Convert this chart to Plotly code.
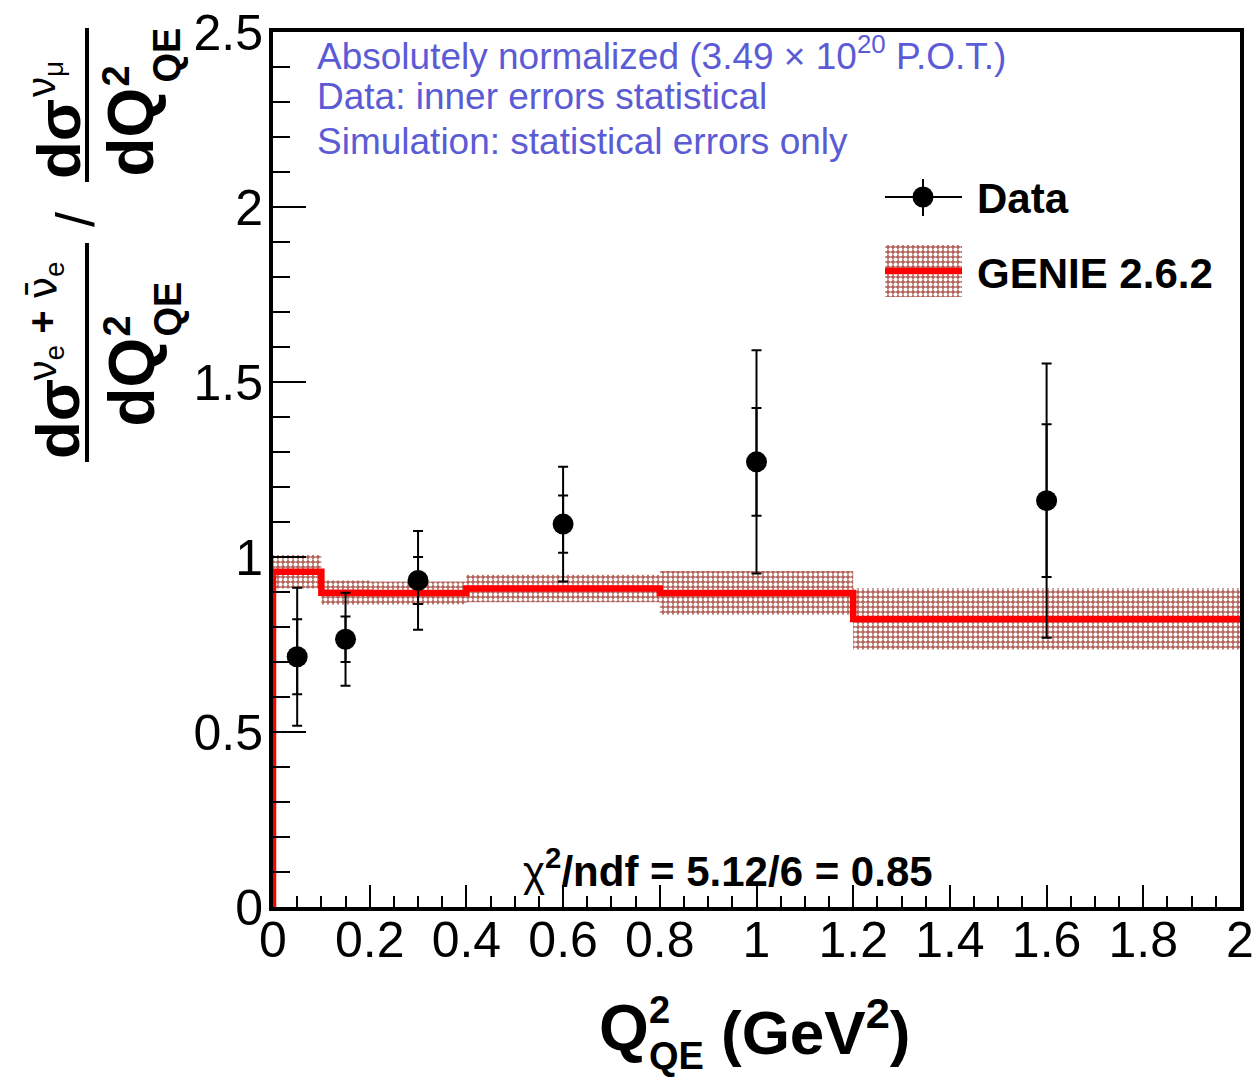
import plotly.graph_objects as go

# ---------------- data ----------------
q2_points = [0.05, 0.15, 0.3, 0.6, 1.0, 1.6]
ratio_data = [0.715, 0.765, 0.933, 1.094, 1.272, 1.161]
stat_err = [0.107, 0.065, 0.067, 0.082, 0.154, 0.218]
total_err = [0.197, 0.133, 0.141, 0.164, 0.319, 0.392]

bin_edges = [0.0, 0.1, 0.2, 0.4, 0.8, 1.2, 2.0]
genie_ratio = [0.958, 0.898, 0.897, 0.910, 0.897, 0.823]
genie_err = [0.048, 0.035, 0.033, 0.039, 0.063, 0.088]

x_tickvals = [0, 0.2, 0.4, 0.6, 0.8, 1.0, 1.2, 1.4, 1.6, 1.8, 2.0]
x_ticktext = ["0", "0.2", "0.4", "0.6", "0.8", "1", "1.2", "1.4", "1.6", "1.8", "2"]
y_tickvals = [0, 0.5, 1.0, 1.5, 2.0, 2.5]
y_ticktext = ["0", "0.5", "1", "1.5", "2", "2.5"]

# ---------------- layout geometry ----------------
W, H = 1255, 1079
L, R, T, B = 273, 1240, 32, 907  # plot area in pixels


def px2x(p):
    return (p - L) / (R - L)


def px2y(p):
    return (B - p) / (B - T)


FONT = "Liberation Sans, Arial, Helvetica, sans-serif"
BLUE = "#5b5bd6"
BAND_BG = "rgb(178,100,90)"
RED = "#ff0000"
PATTERN = dict(shape=".", bgcolor=BAND_BG, fgcolor="white",
               size=5, solidity=0.5, fillmode="replace")

fig = go.Figure()

# GENIE band (step polygon)
band_x, band_up, band_lo = [], [], []
for i in range(len(genie_ratio)):
    band_x += [bin_edges[i], bin_edges[i + 1]]
    band_up += [genie_ratio[i] + genie_err[i]] * 2
    band_lo += [genie_ratio[i] - genie_err[i]] * 2
poly_x = band_x + band_x[::-1]
poly_y = band_up + band_lo[::-1]
fig.add_trace(go.Scatter(
    x=poly_x, y=poly_y, mode="lines", fill="toself",
    line=dict(width=0, color=BAND_BG),
    fillcolor=BAND_BG, fillpattern=PATTERN,
    hoverinfo="skip", showlegend=False,
))

# GENIE central histogram
line_x = [bin_edges[0]]
line_y = [0.0]
for i in range(len(genie_ratio)):
    line_x += [bin_edges[i], bin_edges[i + 1]]
    line_y += [genie_ratio[i]] * 2
fig.add_trace(go.Scatter(
    x=line_x, y=line_y, mode="lines",
    line=dict(color=RED, width=6.5),
    showlegend=False, hoverinfo="skip",
))

# Data: statistical (inner) errors
fig.add_trace(go.Scatter(
    x=q2_points, y=ratio_data, mode="markers",
    marker=dict(size=1, opacity=0),
    error_y=dict(type="data", array=stat_err, color="black",
                 thickness=2, width=5),
    showlegend=False, hoverinfo="skip",
))
# Data: total errors + points
fig.add_trace(go.Scatter(
    x=q2_points, y=ratio_data, mode="markers",
    marker=dict(size=21, color="black", symbol="circle"),
    error_y=dict(type="data", array=total_err, color="black",
                 thickness=2, width=5),
    showlegend=False,
))

# legend drawn on an overlay axis in pixel coordinates
fig.add_trace(go.Scatter(
    x=[885, 962, 962, 885, 885], y=[245, 245, 297, 297, 245],
    xaxis="x2", yaxis="y2", mode="lines", fill="toself",
    line=dict(width=0, color=BAND_BG), fillcolor=BAND_BG,
    fillpattern=PATTERN, showlegend=False, hoverinfo="skip",
))
fig.add_trace(go.Scatter(
    x=[885, 962], y=[271, 271], xaxis="x2", yaxis="y2", mode="lines",
    line=dict(color=RED, width=6.5), showlegend=False, hoverinfo="skip",
))
fig.add_trace(go.Scatter(
    x=[885, 962], y=[197, 197], xaxis="x2", yaxis="y2", mode="lines",
    line=dict(color="black", width=2), showlegend=False, hoverinfo="skip",
))
fig.add_trace(go.Scatter(
    x=[923, 923], y=[179, 216], xaxis="x2", yaxis="y2", mode="lines",
    line=dict(color="black", width=2), showlegend=False, hoverinfo="skip",
))
fig.add_trace(go.Scatter(
    x=[923], y=[197], xaxis="x2", yaxis="y2", mode="markers",
    marker=dict(size=21, color="black"), showlegend=False, hoverinfo="skip",
))

annotations = []


def ann(text, x, y, size, color="black", xanchor="left", yanchor="middle",
        angle=0):
    annotations.append(dict(
        text=text, x=px2x(x), y=px2y(y), xref="paper", yref="paper",
        showarrow=False, xanchor=xanchor, yanchor=yanchor,
        textangle=angle, font=dict(family=FONT, size=size, color=color),
        borderpad=0,
    ))


# info text
ann("Absolutely normalized (3.49 × 10<sup>20</sup> P.O.T.)", 316, 54, 37, BLUE)
ann("Data: inner errors statistical", 316, 96, 37, BLUE)
ann("Simulation: statistical errors only", 316, 142, 37, BLUE)

# legend text
ann("<b>Data</b>", 976, 198, 42)
ann("<b>GENIE 2.6.2</b>", 976, 273, 42)

# chi2
ann("χ<b><sup>2</sup>/ndf = 5.12/6 = 0.85</b>", 728, 868, 42, xanchor="center")

# x-axis title
ann("<b>Q</b>", 598, 1028, 64)
ann("<b>2</b>", 648, 1010, 38)
ann("<b>QE</b>", 648, 1056, 38)
ann("<b>(GeV<sup>2</sup>)</b>", 720, 1028, 62)

# y-axis title (rotated fractions)
ann("<b>dσ</b>", 58, 460, 62, xanchor="center", yanchor="bottom", angle=-90)
ann("ν<sub>e</sub> <b>+</b> <span style='font-family:DejaVu Sans'>ν\u0304</span><sub>e</sub>",
    44, 382, 40, xanchor="center", yanchor="bottom", angle=-90)
ann("<b>dQ</b>", 131, 428, 64, xanchor="center", yanchor="bottom", angle=-90)
ann("<b>2</b>", 116, 338, 38, xanchor="center", yanchor="bottom", angle=-90)
ann("<b>QE</b>", 167, 338, 38, xanchor="center", yanchor="bottom", angle=-90)
ann("/", 75, 220, 54, xanchor="center", yanchor="middle", angle=-90)
ann("<b>dσ</b>", 58, 180, 62, xanchor="center", yanchor="bottom", angle=-90)
ann("ν<sub>μ</sub>", 44, 98, 40, xanchor="center", yanchor="bottom", angle=-90)
ann("<b>dQ</b>", 131, 178, 64, xanchor="center", yanchor="bottom", angle=-90)
ann("<b>2</b>", 116, 88, 38, xanchor="center", yanchor="bottom", angle=-90)
ann("<b>QE</b>", 167, 84, 38, xanchor="center", yanchor="bottom", angle=-90)

shapes = [
    dict(type="line", xref="paper", yref="paper",
         x0=px2x(87), x1=px2x(87), y0=px2y(243), y1=px2y(462),
         line=dict(color="black", width=4)),
    dict(type="line", xref="paper", yref="paper",
         x0=px2x(87), x1=px2x(87), y0=px2y(28), y1=px2y(182),
         line=dict(color="black", width=4)),
]

fig.update_layout(
    width=W, height=H,
    margin=dict(l=L, r=W - R, t=T, b=H - B, pad=0, autoexpand=False),
    paper_bgcolor="white", plot_bgcolor="white",
    font=dict(family=FONT, color="black"),
    showlegend=False,
    annotations=annotations,
    shapes=shapes,
    xaxis=dict(
        range=[0, 2], showgrid=False, zeroline=False, automargin=False,
        showline=True, linewidth=4, linecolor="black", mirror=True,
        ticks="inside", ticklen=22, tickwidth=2, tickcolor="black",
        tickvals=x_tickvals, ticktext=x_ticktext,
        tickfont=dict(family=FONT, size=50, color="black"),
        ticklabelstandoff=-14,
        minor=dict(ticks="inside", dtick=0.05, ticklen=11, tickwidth=2,
                   tickcolor="black", showgrid=False),
    ),
    yaxis=dict(
        range=[0, 2.5], showgrid=False, zeroline=False, automargin=False,
        showline=True, linewidth=4, linecolor="black", mirror=True,
        ticks="inside", ticklen=33, tickwidth=2, tickcolor="black",
        tickvals=y_tickvals, ticktext=y_ticktext,
        tickfont=dict(family=FONT, size=50, color="black"),
        ticklabelstandoff=-4,
        minor=dict(ticks="inside", dtick=0.1, ticklen=17, tickwidth=2,
                   tickcolor="black", showgrid=False),
    ),
    xaxis2=dict(range=[L, R], overlaying="x", visible=False, fixedrange=True),
    yaxis2=dict(range=[B, T], overlaying="y", visible=False, fixedrange=True),
)

fig.write_html("out.html")
